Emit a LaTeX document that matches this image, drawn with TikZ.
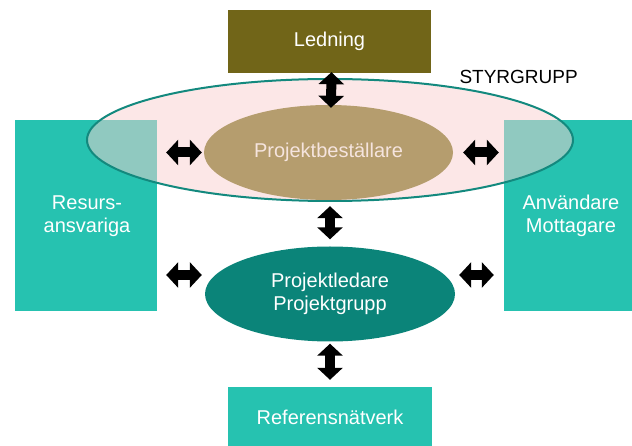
\documentclass[tikz,border=0pt]{standalone}
\usepackage{fontspec}
\setmainfont{Liberation Sans}
\usetikzlibrary{arrows.meta,shapes.geometric}
\definecolor{olive}{RGB}{113,101,24}
\definecolor{tealbox}{RGB}{38,194,176}
\definecolor{pinkfill}{RGB}{250,208,208}
\definecolor{tealline}{RGB}{19,137,126}
\definecolor{tan}{RGB}{181,157,110}
\definecolor{darkteal}{RGB}{11,132,121}
\definecolor{lighttext}{RGB}{245,228,222}
\tikzset{
  box/.style={rectangle, inner sep=0pt, font=\fontsize{20}{23}\selectfont, text=white, align=center},
  oval/.style={ellipse, inner sep=0pt, font=\fontsize{20}{23}\selectfont, align=center},
  dbl/.style={line width=10pt, {Triangle[width=25pt,length=12pt]}-{Triangle[width=25pt,length=12pt]}}
}
\begin{document}
\begin{tikzpicture}[x=1pt,y=-1pt]
\useasboundingbox (0,0) rectangle (632,446);
% side and top/bottom boxes
\node[box, fill=olive, minimum width=203pt, minimum height=63pt] (led) at (329.5,41.5) {Ledning};
\node[box, fill=tealbox, minimum width=142pt, minimum height=191pt] (res) at (86,215.5) {};
\node[box, fill=tealbox, minimum width=132pt, minimum height=191pt] (anv) at (570,215.5) {};
\node[box, fill=tealbox, minimum width=204pt, minimum height=70pt] (ref) at (330,422) {};
% steering group ellipse
\node[ellipse, draw=tealline, line width=2pt, fill=pinkfill, fill opacity=0.5, draw opacity=1,
      minimum width=486pt, minimum height=122pt, inner sep=0pt] (sty) at (330,140) {};
\node[font=\fontsize{19}{22}\selectfont, anchor=west] (stylabel) at (456,77) {STYRGRUPP};
% texts on boxes (above ellipse)
\node[box] (restext) at (87,216) {Resurs-\\ansvariga};
\node[box] (anvtext) at (571,216) {Användare\\Mottagare};
\node[box] (reftext) at (330,417) {Referensnätverk};
% inner ellipses
\node[oval, fill=tan, text=lighttext, minimum width=249pt, minimum height=95pt] (bes) at (328.5,152.5) {Projektbeställare};
\node[oval, fill=darkteal, text=white, minimum width=250pt, minimum height=95pt] (pl) at (330,294) {Projektledare\\Projektgrupp};
% arrow end points
\coordinate (plW) at ([yshift=19pt]pl.west);
\coordinate (plE) at ([yshift=19pt]pl.east);
\coordinate (resW) at (res.east |- plW);
\coordinate (anvE) at (anv.west |- plE);
% arrows
\draw[dbl, shorten <=-1pt, shorten >=-3pt] ([xshift=2pt]led.south) -- ([xshift=2.5pt]bes.north);
\draw[dbl, shorten <=6pt, shorten >=7pt] ([xshift=1.5pt]bes.south) -- (pl.north);
\draw[dbl, shorten <=2pt, shorten >=7pt] (pl.south) -- (ref.north);
\draw[dbl, shorten <=9pt, shorten >=2pt] (res.east |- bes.west) -- (bes.west);
\draw[dbl, shorten <=9pt, shorten >=3pt] (resW) -- (plW);
\draw[dbl, shorten <=10pt, shorten >=5pt] (bes.east) -- (anv.west |- bes.east);
\draw[dbl, shorten <=4pt, shorten >=10pt] (plE) -- (anvE);
\end{tikzpicture}
\end{document}
